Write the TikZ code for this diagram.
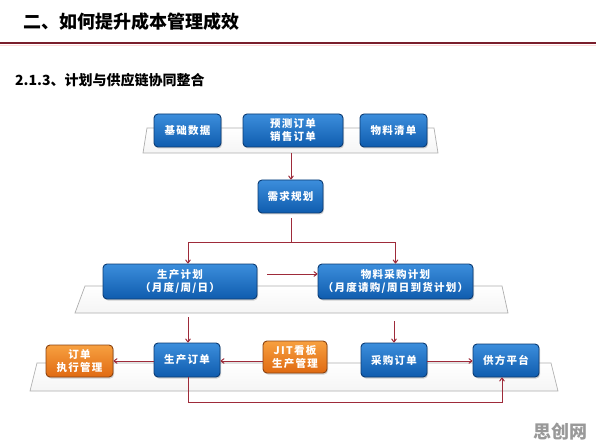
\documentclass[tikz,border=0pt]{standalone}
\usepackage{fontspec}
\setmainfont{Noto Sans CJK SC}
\newfontfamily\boxfont[LetterSpace=12]{Noto Sans CJK SC}
\usetikzlibrary{arrows.meta,shadows}
\definecolor{lnred}{HTML}{9E2B3A}
\definecolor{titlered}{HTML}{7A1E2C}
\definecolor{bluetop}{HTML}{3C8EDC}
\definecolor{bluebot}{HTML}{0F5CAE}
\definecolor{blueedge}{HTML}{0B3B73}
\definecolor{orgtop}{HTML}{F7A040}
\definecolor{orgbot}{HTML}{E06A12}
\definecolor{orgedge}{HTML}{8A4210}
\definecolor{platgray}{HTML}{AFAFAF}
\tikzset{
  bluebox/.style={rounded corners=4pt, draw=blueedge, line width=0.9pt,
    top color=bluetop, bottom color=bluebot, text=white, font=\boxfont\fontsize{10.5}{13}\selectfont\bfseries,
    align=center, inner sep=0pt, drop shadow={opacity=0.35, shadow xshift=1pt, shadow yshift=-1.5pt}},
  orgbox/.style={bluebox, draw=orgedge, top color=orgtop, bottom color=orgbot},
  plat/.style={draw=platgray, line width=0.7pt, top color=white, bottom color=black!4},
  conn/.style={draw=lnred, line width=1pt},
  arr/.style={conn, -{To[length=4pt,width=5.5pt]}}
}
\begin{document}
\begin{tikzpicture}[x=1pt,y=-1pt]
\useasboundingbox (0,0) rectangle (596,446);
\fill[white] (0,0) rectangle (596,446);
% header
\node[anchor=west, font=\fontsize{18}{20}\selectfont\bfseries, inner sep=0pt] (title) at (23,22) {二、如何提升成本管理成效};
\draw[titlered, line width=2.2pt] (0,43) -- (596,43);
\draw[red!15, line width=1pt] (0,45.5) -- (596,45.5);
\node[anchor=west, font=\fontsize{14}{16}\selectfont\bfseries, inner sep=0pt] (sub) at (15,80) {2.1.3、计划与供应链协同整合};
% platforms
\draw[plat] (147,128) -- (434,128) -- (438,153) -- (143,153) -- cycle;
\draw[plat] (85,286) -- (502,286) -- (508,313) -- (75,313) -- cycle;
\draw[plat] (37,363) -- (551,363) -- (558,391) -- (30,391) -- cycle;
\coordinate (p1b) at (291,153);
% top row
\node[bluebox, minimum width=67pt, minimum height=33pt] (jc) at (187.5,130.5) {基础数据};
\node[bluebox, minimum width=100pt, minimum height=33pt] (yc) at (293,130.5) {预测订单\\销售订单};
\node[bluebox, minimum width=67pt, minimum height=33pt] (wl) at (393.5,130.5) {物料清单};
\node[bluebox, minimum width=65pt, minimum height=33pt] (xq) at (290.5,196.5) {需求规划};
% middle row
\node[bluebox, minimum width=154pt, minimum height=35pt] (sc) at (180,281.5) {生产计划\\（月度/周/日）};
\node[bluebox, minimum width=155pt, minimum height=35pt] (wc) at (395.5,281.5) {物料采购计划\\（月度请购/周日到货计划）};
% bottom row
\node[orgbox, minimum width=67pt, minimum height=32pt] (dd) at (79.5,361) {订单\\执行管理};
\node[bluebox, minimum width=66pt, minimum height=34pt] (scdd) at (187,360) {生产订单};
\node[orgbox, minimum width=64pt, minimum height=32pt] (jit) at (295,357) {JIT看板\\生产管理};
\node[bluebox, minimum width=66pt, minimum height=34pt] (cg) at (394,360) {采购订单};
\node[bluebox, minimum width=66pt, minimum height=33pt] (gf) at (506,360.5) {供方平台};
% connectors
\draw[arr] (p1b) -- (xq.north -| p1b);
\coordinate (split) at (291,242);
\draw[conn] ([yshift=-5pt]xq.south -| split) -- (split);
\draw[arr] (split) -| ([xshift=8pt]sc.north);
\draw[arr] (split) -| (wc.north);
\draw[arr] (267,274) -- (wc.west |- 0,274);
\draw[arr] ([xshift=1pt]scdd.north |- 0,317) -- ([xshift=1pt]scdd.north);
\draw[arr] (cg.north |- 0,321) -- (cg.north);
\draw[arr] (scdd.west |- 0,361) -- (dd.east |- 0,361);
\draw[arr] (jit.west |- 0,361) -- (scdd.east |- 0,361);
\draw[arr] (cg.east |- 0,361) -- (gf.west |- 0,361);
\coordinate (loopa) at (188,402);
\coordinate (loopb) at (502,402);
\draw[arr] (scdd.south -| loopa) -- (loopa) -- (loopb) -- (gf.south -| loopb);
% watermark
\node[text=black!40, font=\fontsize{18}{20}\selectfont\bfseries, inner sep=0pt] (wm) at (560,432) {思创网};
\end{tikzpicture}
\end{document}
